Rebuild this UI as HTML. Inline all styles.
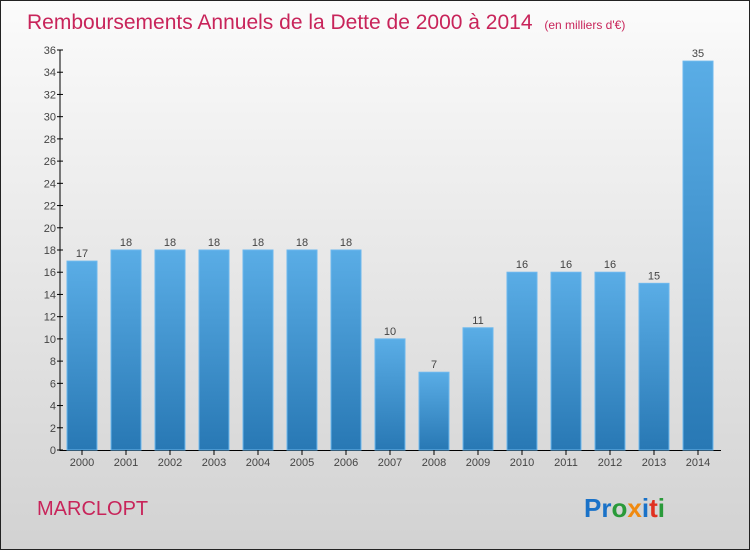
<!DOCTYPE html>
<html><head><meta charset="utf-8"><style>
body{margin:0}
#c{width:748px;height:548px;border:1px solid #222;position:relative;background:linear-gradient(#fbfbfb,#d2d2d2);font-family:"Liberation Sans",sans-serif;overflow:hidden}
</style></head><body>
<div id="c">
<svg width="748" height="548" id="s">
<defs><linearGradient id="g" x1="0" y1="0" x2="0" y2="1"><stop offset="0" stop-color="#5aade6"/><stop offset="1" stop-color="#2878b4"/></linearGradient></defs>
<text x="26" y="28" font-size="21" fill="#c8245a">Remboursements Annuels de la Dette de 2000 à 2014 <tspan font-size="12" dx="6">(en milliers d'€)</tspan></text>
<text x="36" y="514" font-size="20" fill="#c8245a">MARCLOPT</text>
<text x="583" y="516" font-size="26" font-weight="bold"><tspan fill="#1a72c8">Pr</tspan><tspan fill="#2a9a3a">o</tspan><tspan fill="#f08a10">x</tspan><tspan fill="#1a72c8">i</tspan><tspan fill="#e03020">t</tspan><tspan fill="#2a9a3a">i</tspan></text>
<g id="plot"></g>
</svg></div>
<script>
const years=["2000","2001","2002","2003","2004","2005","2006","2007","2008","2009","2010","2011","2012","2013","2014"];
const values=[17,18,18,18,18,18,18,10,7,11,16,16,16,15,35];
const yTicks=[0,2,4,6,8,10,12,14,16,18,20,22,24,26,28,30,32,34,36];
const ns="http://www.w3.org/2000/svg",p=document.getElementById('plot');
const y=v=>449-v*400/36, x=i=>81+i*44;
function mk(t,a,txt){const e=document.createElementNS(ns,t);for(const k in a)e.setAttribute(k,a[k]);if(txt!==undefined)e.textContent=txt;p.appendChild(e);return e;}
let e=mk('line',{x1:59,y1:49,x2:59,y2:450,stroke:'#000'});

e=mk('line',{x1:59,y1:449.5,x2:720,y2:449.5,stroke:'#000'});

yTicks.forEach(t=>{
 mk('line',{x1:56,x2:62,y1:y(t),y2:y(t),stroke:'#000'});
 e=mk('text',{x:55,y:y(t)+4,'font-size':11,fill:'#444','text-anchor':'end'},t);
 
});
values.forEach((v,i)=>{
 e=mk('rect',{x:x(i)-15,y:y(v),width:30,height:449-y(v),fill:'url(#g)',stroke:'#6cb8ee','stroke-width':1});
 
 e=mk('text',{x:x(i),y:y(v)-4,'font-size':11,fill:'#444','text-anchor':'middle'},v);
 
 mk('line',{x1:x(i),x2:x(i),y1:449,y2:454,stroke:'#000'});
 e=mk('text',{x:x(i),y:465,'font-size':11,fill:'#444','text-anchor':'middle'},years[i]);
 
});
</script>
</body></html>
